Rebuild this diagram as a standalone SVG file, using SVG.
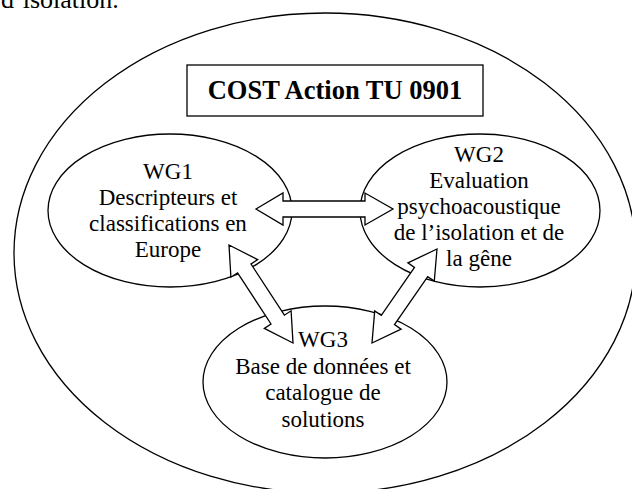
<svg xmlns="http://www.w3.org/2000/svg" width="632" height="489" viewBox="0 0 632 489">
<style>
.sh{fill:#fff;stroke:#000;stroke-width:1.3}
.t{font-family:"Liberation Serif","Times New Roman",serif;font-size:23px;fill:#000;text-anchor:middle}
.title{font-family:"Liberation Serif","Times New Roman",serif;font-size:26.5px;font-weight:bold;fill:#000;text-anchor:middle}
</style>
<rect width="632" height="489" fill="#fff"/>
<text x="1" y="7.5" style="font-family:'Liberation Serif','Times New Roman',serif;font-size:26px;fill:#000">d’isolation.</text>
<g id="outer">
<ellipse class="sh" cx="325" cy="253" rx="311" ry="240"/>
</g>
<g id="title">
<rect class="sh" x="187" y="65" width="296" height="51"/>
<text class="title" x="335" y="99">COST Action TU 0901</text>
</g>
<g id="wg1">
<ellipse class="sh" cx="170" cy="210.5" rx="122" ry="76.5"/>
<text class="t" x="168" y="179">WG1</text>
<text class="t" x="168" y="205">Descripteurs et</text>
<text class="t" x="168" y="231">classifications en</text>
<text class="t" x="168" y="257">Europe</text>
</g>
<g id="wg2">
<ellipse class="sh" cx="480" cy="210.5" rx="120" ry="76.5"/>
<text class="t" x="479" y="162">WG2</text>
<text class="t" x="479" y="188">Evaluation</text>
<text class="t" x="479" y="214">psychoacoustique</text>
<text class="t" x="479" y="240">de l’isolation et de</text>
<text class="t" x="479" y="266">la gêne</text>
</g>
<g id="wg3">
<ellipse class="sh" cx="325" cy="382" rx="122" ry="76"/>
<text class="t" x="323" y="347">WG3</text>
<text class="t" x="323" y="374">Base de données et</text>
<text class="t" x="323" y="400">catalogue de</text>
<text class="t" x="323" y="427">solutions</text>
</g>
<g id="connectors">
<polygon class="sh" points="256,209 283,193 283,201 365,201 365,193 393,209 365,225 365,217 283,217 283,225"/>
<polygon class="sh" points="229,245 257.7,259.6 251,264 284.4,315.2 291.1,310.8 293,343 264.3,328.4 271,324 237.6,272.8 230.9,277.2"/>
<polygon class="sh" points="437,249 434.3,281.1 427.7,276.6 394.5,324.6 401.1,329.1 372,343 374.7,310.9 381.3,315.4 414.5,267.4 407.9,262.9"/>
</g>
</svg>
